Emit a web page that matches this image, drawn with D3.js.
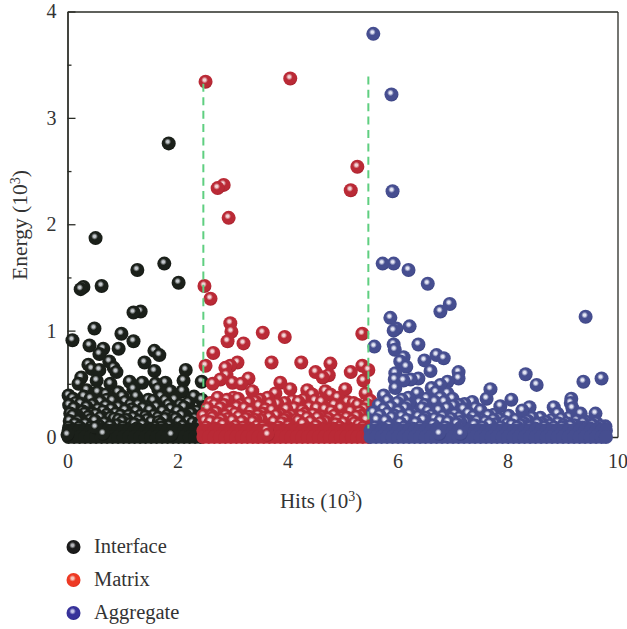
<!DOCTYPE html>
<html lang="en">
<head>
    <meta charset="UTF-8">
    <title>Energy vs hits</title>
    <script src="https://d3js.org/d3.v7.min.js"></script>
    <style>
        body{
            margin: 0;
            background: white;
        }
        text{
            font-family: "Liberation Serif", serif;
            fill: #333;
        }
        .axis path, .axis line{
            stroke: #2a2c26;
            stroke-width: 1.3;
        }
        .axis text{
            font-size: 20px;
            fill: #333;
        }
    </style>
</head>
<body>
<script>
    const hitTicks = [0, 2, 4, 6, 8, 10]
    const energyTicks = [0, 1, 2, 3, 4]
    const energyMinorTicks = [0.5, 1.5, 2.5, 3.5]
    const splitLines = [[2.47, 0.28, 3.32], [5.47, 0.08, 3.39]]

    // readable spheres, [hits, energy] in 10^3
    const interfaceTop = [[1.84,2.76],[.51,1.87],[1.76,1.63],[2.02,1.45],[.24,1.39],[.29,1.41],[.62,1.42],[1.27,1.57],
        [1.20,1.17],[1.33,1.18],[.49,1.02],[.98,.97],[.09,.91],[1.20,.90],[.40,.86],[.93,.83],[.65,.83],[.58,.78],
        [1.58,.81],[1.67,.77],[1.40,.70],[1.58,.62],[2.15,.63],[2.11,.53],[.38,.68],[.44,.64],[.58,.63],[.76,.71],
        [.84,.65],[.89,.61],[.25,.56],[.20,.50],[.53,.53],[.35,.44],[.02,.39],[.78,.50],[1.13,.52],[1.36,.51],
        [1.20,.45],[1.60,.50],[1.65,.45],[1.78,.51],[1.87,.43],[2.09,.43],[2.44,.52],[2.44,.35],[.15,.32],[.60,.33],
        [.82,.34],[1.15,.30],[1.29,.30],[1.47,.35],[1.56,.34],[1.78,.34],[1.84,.30],[.45,.22],[.64,.18],[1.65,.18],
        [1.20,.18],[.93,.16]]
    const interfaceMid = [[.03,.30],[.05,.22],[.04,.15],[.03,.09],[.12,.27],[.18,.2],[.14,.12],[.24,.31],[.28,.24],[.25,.16],
        [.22,.09],[.35,.28],[.38,.19],[.33,.12],[.46,.3],[.5,.15],[.43,.09],[.56,.26],[.6,.18],[.58,.1],[.7,.29],[.72,.21],
        [.68,.13],[.8,.26],[.85,.17],[.78,.1],[.93,.28],[.97,.2],[.9,.11],[1.05,.25],[1.08,.16],[1.02,.09],[1.17,.26],[1.14,.12],
        [1.25,.24],[1.3,.15],[1.26,.08],[1.38,.27],[1.42,.19],[1.37,.11],[1.5,.25],[1.53,.14],[1.48,.08],[1.62,.28],[1.66,.14],
        [1.6,.09],[1.73,.24],[1.78,.17],[1.72,.09],[1.88,.26],[1.92,.18],[1.85,.1],[2.0,.24],[2.03,.14],[1.98,.08],[2.12,.28],
        [2.15,.2],[2.1,.1],[2.25,.22],[2.28,.13],[2.22,.07],[2.36,.24],[2.38,.12],[2.33,.07]]
    const interfaceFill = [[.1,.36],[.3,.38],[.42,.36],[.55,.42],[.7,.4],[.72,.35],[.92,.42],[1.0,.38],[1.25,.38],[1.05,.33],[1.45,.28],
        [1.7,.38],[1.95,.35],[2.2,.32],[2.3,.38],[2.05,.3],[.1,.2],[.2,.15],[.32,.22],[.42,.16],[.52,.21],[.65,.24],[.78,.18],[.88,.22],
        [1.0,.14],[1.12,.2],[1.22,.12],[1.33,.2],[1.45,.16],[1.57,.2],[1.7,.12],[1.82,.2],[1.97,.17],[2.08,.2],[2.2,.15],[2.32,.17],[2.42,.2],[2.42,.12]]
    const interfaceFloor = [.02,.12,.22,.32,.42,.52,.62,.72,.82,.92,1.02,1.12,1.22,1.32,1.42,1.52,1.62,1.72,1.82,1.92,2.02,2.12,2.22,2.32,2.42]
    const interfaceLow = [[.0,.02],[.51,.09],[.65,.03],[1.89,.02]]

    const matrixTop = [[2.51,3.34],[4.05,3.37],[5.27,2.54],[5.15,2.32],[2.84,2.37],[2.73,2.34],[2.93,2.06],[2.49,1.42],[2.60,1.30],
        [2.96,1.07],[2.98,.99],[2.91,.90],[3.2,.88],[3.55,.98],[3.95,.94],[5.36,.97],[2.65,.79],[2.51,.67],[3.09,.70],[2.96,.67],
        [2.87,.65],[3.71,.70],[4.25,.70],[4.78,.69],[4.51,.61],[4.75,.58],[4.64,.56],[5.15,.61],[5.36,.67],[5.47,.63],[5.38,.53],
        [2.89,.58],[3.29,.55],[3.0,.51],[3.16,.50],[2.64,.50],[2.78,.54],[3.87,.51],[4.05,.45],[3.36,.43],[4.36,.44],[4.45,.40],
        [5.05,.45],[4.69,.43],[4.78,.40],[3.78,.41],[2.73,.37],[3.02,.37],[3.64,.37],[4.09,.34],[4.91,.37],[5.42,.41],[5.09,.33],
        [3.82,.31],[3.42,.33],[5.51,.34],[3.98,.26],[4.27,.25],[4.53,.27],[4.8,.24],[5.31,.23],[3.15,.30],[2.78,.27],[2.47,.20],
        [2.64,.18],[4.62,.19],[4.36,.18],[3.47,.20],[5.0,.18]]
    const matrixMid = [[2.55,.27],[2.6,.14],[2.52,.09],[2.7,.23],[2.74,.13],[2.68,.08],[2.85,.3],[2.88,.2],[2.83,.11],[2.97,.24],[3.0,.15],
        [2.95,.08],[3.08,.28],[3.12,.19],[3.06,.1],[3.22,.27],[3.25,.17],[3.2,.09],[3.33,.24],[3.37,.14],[3.31,.08],[3.48,.29],[3.52,.16],
        [3.45,.1],[3.6,.26],[3.58,.18],[3.56,.09],[3.72,.25],[3.75,.14],[3.7,.08],[3.88,.21],[3.9,.13],[3.84,.09],[4.0,.18],[4.02,.1],
        [4.13,.27],[4.16,.16],[4.1,.08],[4.25,.2],[4.28,.12],[4.4,.28],[4.42,.14],[4.38,.08],[4.55,.18],[4.52,.1],[4.68,.26],[4.7,.14],
        [4.66,.08],[4.85,.2],[4.88,.12],[4.83,.08],[4.97,.27],[5.02,.13],[4.95,.09],[5.15,.24],[5.18,.15],[5.12,.08],[5.26,.19],[5.3,.11],
        [5.4,.26],[5.43,.16],[5.38,.09]]
    const matrixFill = [[2.6,.32],[2.68,.3],[2.9,.35],[3.1,.36],[3.3,.32],[3.5,.35],[3.68,.31],[3.95,.32],[4.2,.33],[4.3,.35],[4.5,.34],
        [4.62,.33],[4.85,.3],[5.2,.32],[5.28,.3],[5.45,.3],[2.5,.15],[2.62,.2],[2.8,.16],[2.92,.17],[3.05,.22],[3.17,.14],[3.3,.19],[3.42,.16],
        [3.55,.22],[3.67,.18],[3.8,.2],[3.95,.16],[4.08,.2],[4.2,.15],[4.32,.22],[4.47,.21],[4.6,.13],[4.75,.17],[4.92,.16],[5.08,.18],[5.22,.13],[5.35,.2]]
    const matrixFloor = [2.47,2.57,2.67,2.77,2.87,2.97,3.07,3.17,3.27,3.37,3.47,3.57,3.67,3.77,3.87,3.97,4.07,4.17,4.27,4.37,4.47,4.57,4.67,4.77,4.87,4.97,5.07,5.17,5.27,5.37,5.47]
    const matrixLow = [[3.62,.06],[3.64,.02]]

    const aggregateTop = [[5.56,3.79],[5.89,3.22],[5.91,2.31],[5.73,1.63],[5.93,1.63],[6.2,1.57],[6.55,1.44],[6.95,1.25],[6.78,1.18],
        [5.87,1.12],[9.42,1.13],[6.22,1.04],[5.98,1.02],[5.93,1.0],[5.58,.85],[5.93,.87],[5.95,.82],[6.38,.87],[6.11,.75],[6.05,.71],
        [6.16,.66],[6.49,.72],[6.71,.77],[6.84,.74],[6.6,.62],[7.11,.61],[7.11,.55],[6.91,.52],[6.78,.49],[5.96,.60],[5.95,.54],
        [6.11,.53],[6.24,.54],[6.38,.55],[6.62,.46],[5.96,.46],[5.75,.39],[6.2,.37],[6.36,.41],[6.53,.36],[6.78,.37],[6.91,.41],[6.0,.32],
        [6.24,.30],[7.02,.29],[6.56,.24],[5.56,.23],[7.36,.33],[7.69,.45],[7.62,.36],[8.07,.35],[8.33,.59],[8.53,.49],[9.38,.52],[9.71,.55],
        [9.16,.36],[9.15,.32],[8.84,.28],[8.4,.28],[8.27,.25],[7.87,.29],[8.02,.20],[7.75,.21],[7.51,.25],[7.29,.22],[7.13,.18],[9.18,.27],
        [9.33,.22],[9.6,.22],[8.91,.22],[8.6,.18],[8.45,.18],[9.78,.10],[9.76,.04],[9.02,.11],[7.78,.12],[8.71,.14],[9.38,.13],[7.15,.09]]
    const aggregateMid = [[5.62,.16],[5.6,.09],[5.75,.26],[5.78,.15],[5.72,.08],[5.88,.28],[5.9,.18],[5.85,.1],[6.02,.24],[6.05,.13],[5.98,.08],
        [6.14,.27],[6.17,.16],[6.12,.09],[6.3,.22],[6.33,.13],[6.27,.08],[6.45,.27],[6.47,.16],[6.42,.09],[6.62,.2],[6.65,.11],[6.75,.25],
        [6.78,.15],[6.72,.08],[6.9,.27],[6.92,.14],[6.87,.09],[7.05,.21],[7.08,.12],[7.2,.26],[7.24,.14],[7.18,.08],[7.38,.19],[7.4,.11],
        [7.52,.16],[7.55,.09],[7.65,.2],[7.68,.12],[7.85,.17],[7.88,.09],[8.0,.12],[8.15,.16],[8.18,.09],[8.3,.13],[8.42,.09],[8.55,.12],
        [8.68,.09],[8.8,.16],[8.85,.09],[8.98,.17],[9.0,.09],[9.12,.18],[9.15,.1],[9.26,.15],[9.3,.08],[9.45,.14],[9.5,.08],[9.62,.13],[9.65,.08]]
    const aggregateFill = [[5.66,.3],[5.82,.34],[6.08,.35],[6.2,.3],[6.4,.32],[6.5,.3],[6.68,.33],[6.7,.42],[6.85,.33],[7.0,.36],[7.12,.3],[7.22,.31],[7.42,.27],
        [5.68,.2],[5.82,.22],[5.95,.2],[6.08,.19],[6.22,.21],[6.38,.19],[6.52,.18],[6.68,.17],[6.83,.19],[6.98,.17],[7.14,.14],[7.3,.15],[7.45,.15],[7.6,.14],
        [7.75,.16],[7.95,.14],[8.08,.11],[8.25,.11],[8.37,.15],[8.5,.08],[8.62,.13],[8.78,.11],[8.92,.13],[9.08,.13],[9.22,.11],[9.36,.09],[9.55,.11],[9.7,.1]]
    const aggregateFloor = [5.51,5.61,5.71,5.81,5.91,6.01,6.11,6.21,6.31,6.41,6.51,6.61,6.71,6.81,6.91,7.01,7.11,7.21,7.31,7.41,7.51,7.61,7.71,7.81,7.91,8.01,8.11,8.21,8.31,8.41,8.51,8.61,8.71,8.81,8.91,9.01,9.11,9.21,9.31,9.41,9.51,9.61,9.71,9.79]
    const aggregateLow = [[6.76,.03],[7.15,.03]]

    const floorEnergies = [0.06, 0]
    const legendNames = ["Interface", "Matrix", "Aggregate"]

    const svg = d3.select("body").append("svg")
        .attr("width", 627)
        .attr("height", 629)
    const defs = svg.append("defs")

    function sphere(id, shine, base, edge) {
        const g = defs.append("radialGradient")
            .attr("id", id)
            .attr("cx", 0.43).attr("cy", 0.38).attr("r", 0.6)
        g.append("stop").attr("offset", 0).attr("stop-color", shine)
        g.append("stop").attr("offset", 0.14).attr("stop-color", shine)
        g.append("stop").attr("offset", 0.4).attr("stop-color", base)
        g.append("stop").attr("offset", 0.85).attr("stop-color", base)
        g.append("stop").attr("offset", 1).attr("stop-color", edge)
    }
    sphere("ballInterface", "#c4c8cc", "#1b201a", "#141813")
    sphere("ballMatrix", "#f2d4d6", "#ba2a36", "#a8222e")
    sphere("ballAggregate", "#e4e6f4", "#464e90", "#3c4484")
    sphere("keyInterface", "#b4b4b8", "#1b1b1b", "#111111")
    sphere("keyMatrix", "#f6c6bc", "#ee3a24", "#e03020")
    sphere("keyAggregate", "#c4c4e8", "#37329a", "#2c2888")

    const x = d3.scaleLinear().domain([0, 10]).range([67.5, 617.5])
    const y = d3.scaleLinear().domain([0, 4]).range([437, 11.5])

    // frame first, the spheres sit on top of it
    svg.append("g").attr("class", "axis")
        .attr("transform", "translate(0,437)")
        .call(d3.axisBottom(x).tickValues(hitTicks).tickSize(0).tickPadding(17))
    svg.append("g").attr("class", "axis")
        .attr("transform", "translate(67.5,0)")
        .call(d3.axisLeft(y).tickValues(energyMinorTicks).tickSize(-4).tickSizeOuter(0).tickFormat(""))
    svg.append("g").attr("class", "axis")
        .attr("transform", "translate(67.5,0)")
        .call(d3.axisLeft(y).tickValues(energyTicks).tickSize(-8).tickSizeOuter(0).tickPadding(11).tickFormat(d3.format("d")))
    svg.append("g").attr("class", "axis")
        .attr("transform", "translate(0,11.5)")
        .call(d3.axisTop(x).tickValues([]).tickSizeOuter(0))
    svg.append("g").attr("class", "axis")
        .attr("transform", "translate(617.5,0)")
        .call(d3.axisRight(y).tickValues([]).tickSizeOuter(0))

    const radius = 7

    function drawSeries(top, mid, fill, floor, low, flat, ball) {
        const g = svg.append("g")
        const pts = top.concat(mid, fill).sort((a, b) => d3.descending(a[1], b[1]))
        g.selectAll(".ball").data(pts).enter().append("circle")
            .attr("cx", d => x(d[0])).attr("cy", d => y(d[1]))
            .attr("r", radius).attr("fill", "url(#" + ball + ")")
        floorEnergies.forEach(function(e, i) {
            g.selectAll(".floor" + i).data(floor).enter().append("circle")
                .attr("class", "floor" + i)
                .attr("cx", d => x(d)).attr("cy", y(e))
                .attr("r", radius).attr("fill", flat)
        })
        g.selectAll(".low").data(low).enter().append("circle")
            .attr("class", "low")
            .attr("cx", d => x(d[0])).attr("cy", d => y(d[1]))
            .attr("r", radius).attr("fill", "url(#" + ball + ")")
    }

    drawSeries(interfaceTop, interfaceMid, interfaceFill, interfaceFloor, interfaceLow, "#1b201a", "ballInterface")
    drawSeries(matrixTop, matrixMid, matrixFill, matrixFloor, matrixLow, "#ba2a36", "ballMatrix")
    drawSeries(aggregateTop, aggregateMid, aggregateFill, aggregateFloor, aggregateLow, "#464e90", "ballAggregate")

    svg.selectAll(".split").data(splitLines).enter().append("line")
        .attr("class", "split")
        .attr("x1", d => x(d[0])).attr("x2", d => x(d[0]))
        .attr("y1", d => y(d[2])).attr("y2", d => y(d[1]))
        .attr("stroke", "#5fcf80")
        .attr("stroke-width", 2)
        .attr("stroke-dasharray", "8,5.4")

    const xTitle = svg.append("text")
        .attr("x", 321).attr("y", 508)
        .attr("text-anchor", "middle")
        .attr("font-size", 21)
    xTitle.append("tspan").text("Hits (10")
    xTitle.append("tspan").attr("dy", -7).attr("font-size", 14).text("3")
    xTitle.append("tspan").attr("dy", 7).text(")")

    const yTitle = svg.append("text")
        .attr("transform", "translate(27,225) rotate(-90)")
        .attr("text-anchor", "middle")
        .attr("font-size", 21.5)
    yTitle.append("tspan").text("Energy (10")
    yTitle.append("tspan").attr("dy", -7).attr("font-size", 14).text("3")
    yTitle.append("tspan").attr("dy", 7).text(")")

    const keys = ["keyInterface", "keyMatrix", "keyAggregate"]
    const legendY = d3.scalePoint().domain(legendNames).range([547, 613])
    svg.selectAll(".key").data(legendNames).enter().append("circle")
        .attr("class", "key")
        .attr("cx", 73.5).attr("cy", d => legendY(d))
        .attr("r", 7)
        .attr("fill", (d, i) => "url(#" + keys[i] + ")")
    svg.selectAll(".keyText").data(legendNames).enter().append("text")
        .attr("class", "keyText")
        .attr("x", 94).attr("y", d => legendY(d) + 6)
        .attr("font-size", 20.5)
        .text(d => d)
</script>
</body>
</html>
